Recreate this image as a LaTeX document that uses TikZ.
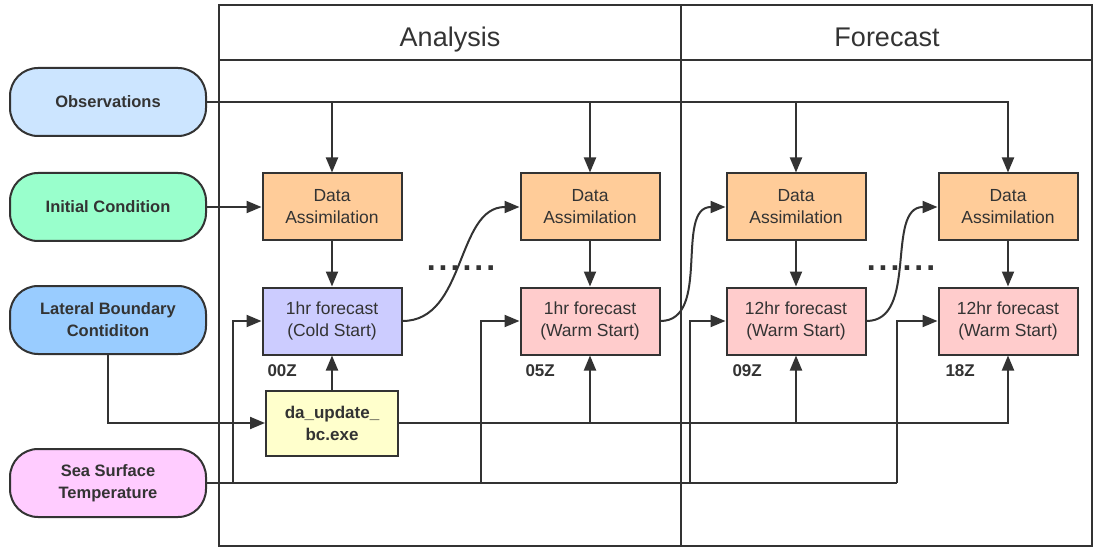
\documentclass[tikz,border=0pt]{standalone}
\usepackage{fontspec}
\setmainfont{Liberation Sans}
\usetikzlibrary{positioning}
\usetikzlibrary{calc}
\usetikzlibrary{arrows.meta}

\definecolor{ink}{HTML}{333333}
\definecolor{obsblue}{HTML}{CCE5FF}
\definecolor{icgreen}{HTML}{99FFCC}
\definecolor{lbcblue}{HTML}{99CCFF}
\definecolor{sstpink}{HTML}{FFCCFF}
\definecolor{daorange}{HTML}{FFCC99}
\definecolor{coldlav}{HTML}{CCCCFF}
\definecolor{warmpink}{HTML}{FFCCCC}
\definecolor{updyellow}{HTML}{FFFFCC}

\newcommand{\dotrow}{\textbf{.\kern3pt.\kern3pt.\kern3pt.\kern3pt.\kern3pt.}}

\begin{document}
\begin{tikzpicture}[x=1pt, y=-1pt, color=ink, line width=2pt,
    src/.style={draw, rounded corners=28pt, minimum width=196pt, minimum height=68pt,
        align=center, font=\fontsize{16.5}{22}\selectfont\bfseries},
    box/.style={draw, minimum width=139pt, minimum height=67pt,
        align=center, font=\fontsize{17.5}{22}\selectfont},
    tag/.style={anchor=west, inner sep=0pt, font=\fontsize{17}{20}\selectfont\bfseries},
    title/.style={anchor=base, font=\fontsize{27}{30}\selectfont},
    dots/.style={inner sep=0pt, font=\fontsize{32}{34}\selectfont},
    arr/.style={-{Triangle[length=15pt, width=12pt]}}]
    \useasboundingbox (0,0) rectangle (1095,548);

    \draw[line width=1.8pt] (219,5) rectangle (1092,546);
    \draw[line width=1.8pt] (219,60) -- (1092,60);
    \draw[line width=1.8pt] (681,5) -- (681,546);
    \node[title] (analysis) at (450,47) {Analysis};
    \node[title] (forecast) at (887,47) {Forecast};

    \node[src, fill=obsblue] (obs) at (108,102) {Observations};
    \node[src, fill=icgreen] (ic) at (108,207) {Initial Condition};
    \node[src, fill=lbcblue] (lbc) at (108,320) {Lateral Boundary\\Contiditon};
    \node[src, fill=sstpink] (sst) at (108,483) {Sea Surface\\Temperature};

    \node[box, fill=daorange] (da1) at (332,207) {Data\\Assimilation};
    \node[box, fill=daorange, right=117pt of da1] (da2) {Data\\Assimilation};
    \node[box, fill=daorange, right=65pt of da2] (da3) {Data\\Assimilation};
    \node[box, fill=daorange, right=71pt of da3] (da4) {Data\\Assimilation};

    \node[box, fill=coldlav, below=45pt of da1] (f1) {1hr forecast\\(Cold Start)};
    \node[box, fill=warmpink, below=45pt of da2] (f2) {1hr forecast\\(Warm Start)};
    \node[box, fill=warmpink, below=45pt of da3] (f3) {12hr forecast\\(Warm Start)};
    \node[box, fill=warmpink, below=45pt of da4] (f4) {12hr forecast\\(Warm Start)};

    \node[box, fill=updyellow, minimum width=132pt, minimum height=65pt, below=34pt of f1,
        font=\fontsize{17}{22}\selectfont\bfseries] (upd) {da\_update\_\\bc.exe};

    \node[tag] (t00) at ([xshift=5pt, yshift=-15.5pt]f1.south west) {00Z};
    \node[tag] (t05) at ([xshift=5pt, yshift=-15.5pt]f2.south west) {05Z};
    \node[tag] (t09) at ([xshift=6pt, yshift=-15.5pt]f3.south west) {09Z};
    \node[tag] (t18) at ([xshift=7pt, yshift=-15.5pt]f4.south west) {18Z};

    \node[dots] (gap1) at (461,268) {\dotrow};
    \node[dots] (gap2) at (901,268) {\dotrow};

    \draw[arr] (obs) -| (da4);
    \draw[arr] (obs.east -| da1) -- (da1);
    \draw[arr] (obs.east -| da2) -- (da2);
    \draw[arr] (obs.east -| da3) -- (da3);
    \draw[arr] (ic) -- (da1);

    \draw[arr] (da1) -- (f1);
    \draw[arr] (da2) -- (f2);
    \draw[arr] (da3) -- (f3);
    \draw[arr] (da4) -- (f4);

    \draw[arr] (f1.east) to[out=0, in=180] (da2.west);
    \draw[arr] (f2.east) to[out=0, in=180] (da3.west);
    \draw[arr] (f3.east) to[out=0, in=180] (da4.west);

    \draw[arr] (lbc) |- (upd);
    \draw[arr] (upd) -- (f1);
    \draw[arr] (upd) -| (f4);
    \draw[arr] (upd.east -| f2) -- (f2);
    \draw[arr] (upd.east -| f3) -- (f3);

    \coordinate[left=29pt of f1.west] (s1);
    \coordinate[left=39pt of f2.west] (s2);
    \coordinate[left=36pt of f3.west] (s3);
    \coordinate[left=41pt of f4.west] (s4);
    \draw (sst) -- (sst.east -| s4);
    \draw[arr] (sst.east -| s1) -- (s1) -- (f1);
    \draw[arr] (sst.east -| s2) -- (s2) -- (f2);
    \draw[arr] (sst.east -| s3) -- (s3) -- (f3);
    \draw[arr] (sst.east -| s4) -- (s4) -- (f4);
\end{tikzpicture}
\end{document}
